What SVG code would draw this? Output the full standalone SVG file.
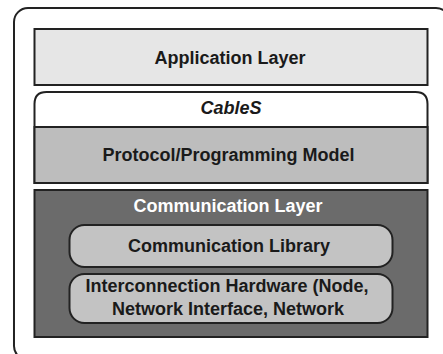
<svg xmlns="http://www.w3.org/2000/svg" width="443" height="354" viewBox="0 0 443 354">
<style>
.t{font-family:"Liberation Sans",Arial,sans-serif;font-weight:bold;font-size:18px;text-anchor:middle;fill:#1a1a1a}
.w{fill:#ffffff}
.i{font-style:italic}
.s{stroke:#222;stroke-width:2}
</style>
<rect width="443" height="354" fill="#fff"/>
<g id="outer"><rect x="14" y="8" width="436" height="352" rx="14" fill="#fff" stroke="#222" stroke-width="2"/></g>
<g id="app"><rect class="s" x="34.5" y="29" width="393" height="56" fill="#e6e6e6"/><text class="t" x="230" y="63.5">Application Layer</text></g>
<g id="cables"><path class="s" d="M34.5,183 V104 Q34.5,92 46.5,92 H415.5 Q427.5,92 427.5,104 V183 Z" fill="#fff"/><text class="t i" x="231" y="113.5">CableS</text></g>
<g id="protocol"><rect class="s" x="34.5" y="127" width="393" height="56" fill="#bdbdbd"/><text class="t" x="228.5" y="161">Protocol/Programming Model</text></g>
<g id="comm"><rect class="s" x="34.5" y="190" width="393" height="147" fill="#6b6b6b"/><text class="t w" x="228" y="212">Communication Layer</text></g>
<g id="lib"><rect class="s" x="69.5" y="225" width="323" height="42" rx="15" fill="#c3c3c3"/><text class="t" x="229" y="252">Communication Library</text></g>
<g id="hw"><rect class="s" x="69.5" y="274" width="323" height="49" rx="15" fill="#c3c3c3"/><text class="t" x="227" y="292">Interconnection Hardware (Node,</text><text class="t" x="228" y="315">Network Interface, Network</text></g>
<g id="connectors"/>
</svg>
